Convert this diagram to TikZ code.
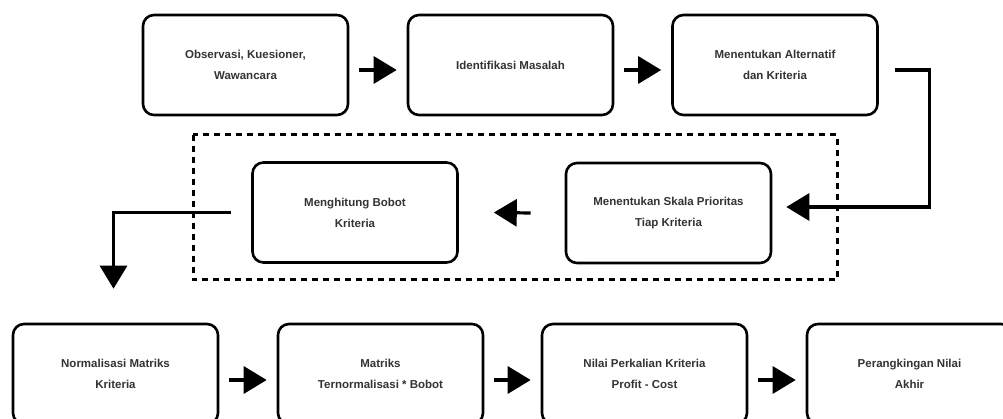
\documentclass[tikz,border=0pt]{standalone}
\usepackage{fontspec}
\setmainfont{Liberation Sans}
\usetikzlibrary{arrows.meta,calc}
\begin{document}
\begin{tikzpicture}[x=1pt,y=-1pt,
  box/.style={draw=black,line width=2.6pt,rounded corners=11pt,minimum width=205pt,minimum height=100pt,align=center,font=\fontsize{11.5}{21}\selectfont\bfseries,text=black!80,inner sep=0pt},
  conn/.style={line width=3.2pt,-{Triangle[length=23pt,width=27pt]}},
  dashbox/.style={line width=3pt,dash pattern=on 6pt off 5pt}]
\clip (0,0) rectangle (1003,419);
\useasboundingbox (0,0) rectangle (1003,419);
\node[box] (b1) at (245.5,65) {Observasi, Kuesioner,\\Wawancara};
\node[box] (b2) at (510.5,65) {Identifikasi Masalah};
\node[box] (b3) at (775,65) {Menentukan Alternatif\\dan Kriteria};
\node[box] (b4) at (668.5,213) {Menentukan Skala Prioritas\\Tiap Kriteria};
\node[box] (b5) at (355,212.5) {Menghitung Bobot\\Kriteria};
\node[box] (b6) at (115.5,374) {Normalisasi Matriks\\Kriteria};
\node[box] (b7) at (380.5,374) {Matriks\\Ternormalisasi * Bobot};
\node[box] (b8) at (644.5,374) {Nilai Perkalian Kriteria\\Profit - Cost};
\node[box] (b9) at (909.5,374) {Perangkingan Nilai\\Akhir};
\draw[dashbox] (193,135) rectangle (837,280);
\coordinate (s3) at ($(b3.east)+(16,5)$);
\coordinate (t4) at ($(b4.east)+(14,-6)$);
\coordinate (s4) at ($(b4.west)+(-34,0)$);
\coordinate (t5) at ($(b5.east)+(35,0)$);
\coordinate (s5) at ($(b5.west)+(-20,0)$);
\coordinate (t6) at ($(b6.north)+(-2,-34)$);
\draw[conn] ($(b1.east)+(10,5)$) -- ($(b2.west)+(-10,5)$);
\draw[conn] ($(b2.east)+(10,5)$) -- ($(b3.west)+(-10,5)$);
\draw[conn] (s3) -| ($(t4)+(143,0)$) -- (t4);
\draw[conn] (s4) -- (t5);
\draw[conn] (s5) -| (t6);
\draw[conn] ($(b6.east)+(10,6)$) -- ($(b7.west)+(-10,6)$);
\draw[conn] ($(b7.east)+(10,6)$) -- ($(b8.west)+(-10,6)$);
\draw[conn] ($(b8.east)+(10,6)$) -- ($(b9.west)+(-10,6)$);
\end{tikzpicture}
\end{document}
